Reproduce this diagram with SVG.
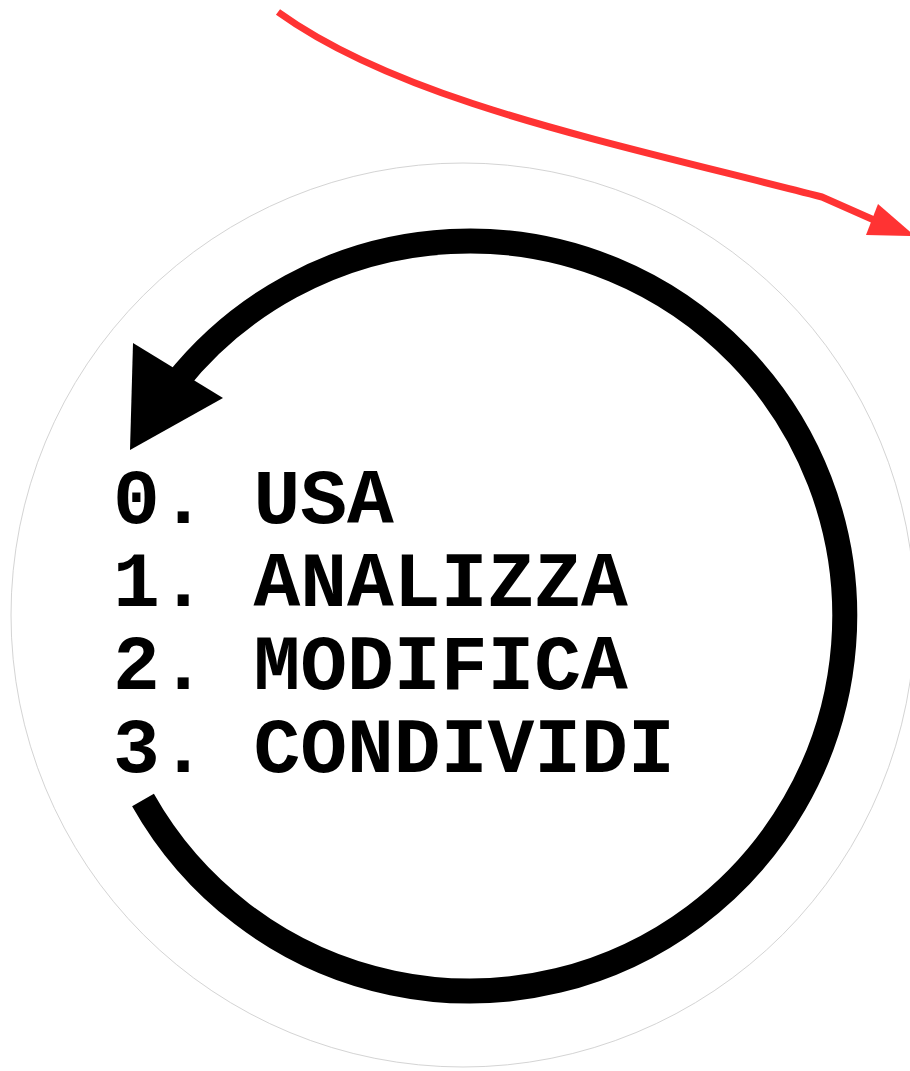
<svg xmlns="http://www.w3.org/2000/svg" width="910" height="1071" viewBox="0 0 910 1071">
  <style>
    .label { font-family: "Liberation Mono", "DejaVu Sans Mono", monospace; font-weight: bold; font-size: 78px; fill: #000; }
    .cycle { fill: none; stroke: #000; stroke-width: 25; stroke-linecap: butt; }
    .red { fill: none; stroke: #ff3333; stroke-width: 7; stroke-linecap: butt; stroke-linejoin: round; }
    .halo { fill: #fff; stroke: #d4d4d4; stroke-width: 1; }
  </style>
  <rect width="910" height="1071" fill="#fff"/>
  <g id="background-circle">
    <circle class="halo" cx="463" cy="615" r="452"/>
  </g>
  <g id="connectors">
    <path class="cycle" d="M143,800 A375,375 0 1 0 175.5,383.5"/>
    <polygon points="130,450 133,343 223,398" fill="#000"/>
    <path class="red" d="M278,12 C400,100 600,140 822,197 L874,220"/>
    <polygon points="878,204 866,235 915,236" fill="#ff3333"/>
  </g>
  <g id="steps">
    <text class="label" x="113" y="523">0. USA</text>
    <text class="label" x="113" y="606">1. ANALIZZA</text>
    <text class="label" x="113" y="689">2. MODIFICA</text>
    <text class="label" x="113" y="772">3. CONDIVIDI</text>
  </g>
</svg>
